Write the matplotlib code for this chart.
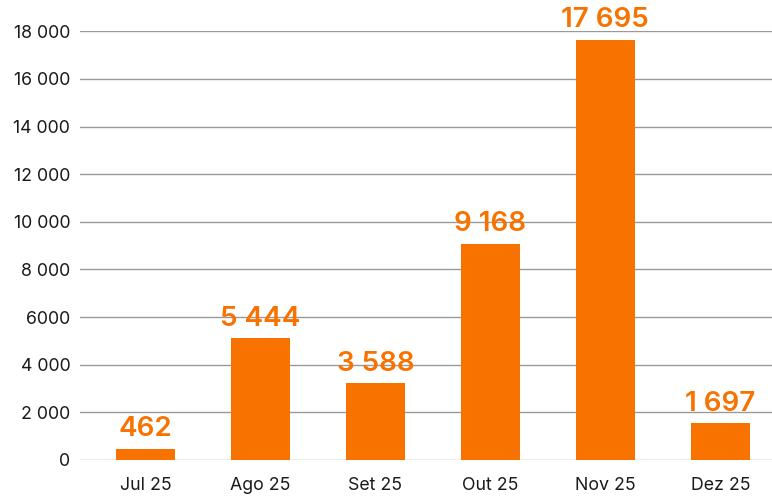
import matplotlib
matplotlib.use("Agg")
import matplotlib.pyplot as plt
from matplotlib.ticker import FixedLocator

categories = ["Jul 25", "Ago 25", "Set 25", "Out 25", "Nov 25", "Dez 25"]
label_values = ["462", "5 444", "3 588", "9 168", "17 695", "1 697"]
bar_heights = [462, 5110, 3220, 9070, 17640, 1540]
y_ticks = [0, 2000, 4000, 6000, 8000, 10000, 12000, 14000, 16000, 18000]
y_tick_labels = ["0", "2 000", "4 000", "6000", "8 000", "10 000", "12 000", "14 000", "16 000", "18 000"]

FONT = ["Inter", "DejaVu Sans"]
plt.rcParams["font.family"] = FONT
BAR = "#F87200"

fig = plt.figure(figsize=(7.72, 5.0), dpi=100)
ax = fig.add_axes([80 / 772, 40 / 500, 1 - 80 / 772, (460 - 31.3) / 500])

x = list(range(len(categories)))
ax.bar(x, bar_heights, width=0.513, color=BAR, zorder=3)

for xi, h, lab in zip(x, bar_heights, label_values):
    ax.annotate(lab, (xi, h), xytext=(0, 9), textcoords="offset points",
                ha="center", va="baseline", fontsize=20, fontweight="semibold",
                color=BAR, clip_on=False, zorder=4)

ax.set_xlim(-0.57, 5.45)
ax.set_ylim(0, 18000)
ax.yaxis.set_major_locator(FixedLocator(y_ticks))
ax.set_yticklabels(y_tick_labels)
ax.set_xticks(x)
ax.set_xticklabels(categories)
ax.grid(axis="y", color="#999999", linewidth=1.0, zorder=0)
ax.set_axisbelow(True)
for s in ax.spines.values():
    s.set_visible(False)
ax.tick_params(axis="y", length=0, pad=7, labelsize=12.8, labelcolor="#1a1a1a")
ax.tick_params(axis="x", length=0, pad=12, labelsize=12.8, labelcolor="#1a1a1a")

fig.savefig("out.png", dpi=100)
